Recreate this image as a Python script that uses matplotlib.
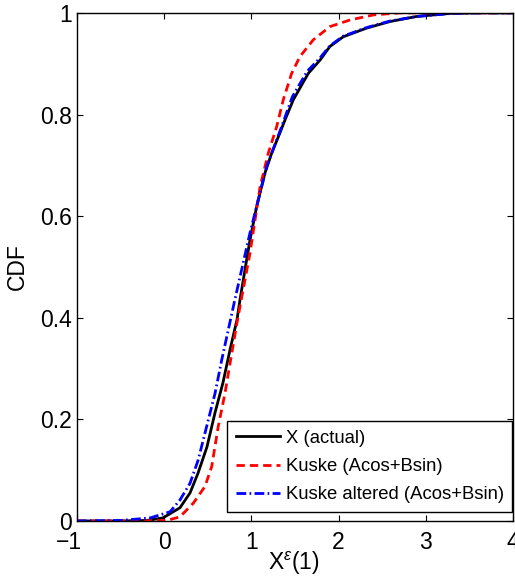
import matplotlib
matplotlib.use('Agg')
import matplotlib.pyplot as plt
from matplotlib.transforms import ScaledTranslation

plt.rcParams['font.family'] = ['Liberation Sans', 'DejaVu Sans']
plt.rcParams['mathtext.fontset'] = 'custom'
plt.rcParams['mathtext.rm'] = 'Liberation Sans'
plt.rcParams['mathtext.it'] = 'Liberation Sans:italic'

x_actual = [-1, -0.5, -0.2, -0.014, 0.181, 0.296, 0.388, 0.491, 0.583, 0.674, 0.755,
            0.835, 0.869, 0.907, 0.984, 1.061, 1.156, 1.233, 1.328, 1.385, 1.481,
            1.653, 1.787, 1.901, 2.054, 2.32, 2.59, 2.896, 3.28, 3.6, 4]
y_actual = [0, 0, 0.001, 0.006, 0.026, 0.055, 0.094, 0.146, 0.213, 0.272, 0.337,
            0.396, 0.435, 0.474, 0.553, 0.619, 0.685, 0.724, 0.764, 0.789, 0.829,
            0.881, 0.907, 0.934, 0.953, 0.970, 0.983, 0.993, 0.999, 1, 1]

x_kuske = [-1, -0.3, 0.03, 0.18, 0.334, 0.468, 0.545, 0.62, 0.697, 0.755, 0.84,
           0.984, 1.1, 1.194, 1.29, 1.366, 1.462, 1.557, 1.71, 1.901, 2.13, 2.4, 2.7, 4]
y_kuske = [0, 0, 0.001, 0.008, 0.035, 0.068, 0.107, 0.186, 0.251, 0.31, 0.395,
           0.527, 0.658, 0.724, 0.776, 0.829, 0.881, 0.914, 0.947, 0.973, 0.986, 0.996, 1.0, 1.0]

x_altered = [-1, -0.5, -0.16, 0.067, 0.18, 0.296, 0.39, 0.487, 0.583, 0.66, 0.735,
             0.81, 0.984, 1.175, 1.347, 1.47, 1.64, 1.78, 1.9, 2.05, 2.32, 2.59, 2.9, 3.3, 3.6, 4]
y_altered = [0, 0.001, 0.006, 0.018, 0.041, 0.074, 0.12, 0.186, 0.251, 0.317, 0.376,
             0.435, 0.567, 0.697, 0.776, 0.835, 0.885, 0.91, 0.935, 0.954, 0.971, 0.984, 0.993, 0.999, 1, 1]

xticks = [-1, 0, 1, 2, 3, 4]
xticklabels = ['\u22121', '0', '1', '2', '3', '4']
yticks = [0, 0.2, 0.4, 0.6, 0.8, 1]
yticklabels = ['0', '0.2', '0.4', '0.6', '0.8', '1']

fig = plt.figure(figsize=(5.15, 5.86), dpi=100)
ax = fig.add_axes([0.1495, 0.111, 0.8465, 0.867])

ax.plot(x_actual, y_actual, color='k', lw=2, label='X (actual)')
ax.plot(x_kuske, y_kuske, color=(1, 0, 0), lw=2, dashes=(3, 1.8), label='Kuske (Acos+Bsin)')
ax.plot(x_altered, y_altered, color=(0, 0, 1), lw=2, dashes=(3.5, 1.2, 0.6, 1.2),
        label='Kuske altered (Acos+Bsin)')

ax.set_xlim(-1, 4)
ax.set_ylim(0, 1)
ax.set_xticks(xticks)
ax.set_xticklabels(xticklabels)
ax.set_yticks(yticks)
ax.set_yticklabels(yticklabels)
ax.tick_params(direction='in', length=4, width=0.8, top=True, right=True,
               labelsize=16.5, colors='k')
ax.tick_params(axis='x', pad=7)
ax.tick_params(axis='y', pad=3.5)
for s in ax.spines.values():
    s.set_linewidth(1)

# matlab puts the "-1" a bit left of its tick
lab = ax.get_xticklabels()[0]
lab.set_transform(lab.get_transform() + ScaledTranslation(-0.08, 0, fig.dpi_scale_trans))

ax.set_xlabel('X$^{\\varepsilon}$(1)', fontsize=16.5, va='top')
ax.xaxis.set_label_coords(0.497, -0.056)
ax.set_ylabel('CDF', fontsize=16.5, va='center')
ax.yaxis.set_label_coords(-0.136, 0.5)

leg = ax.legend(loc='lower right', bbox_to_anchor=(0.998, 0.018), fontsize=13.3,
                frameon=True, fancybox=False, framealpha=1, edgecolor='k',
                handlelength=2.4, handletextpad=0.3, labelspacing=0.62,
                borderpad=0.45, borderaxespad=0)
leg.get_frame().set_linewidth(1)

fig.savefig('out.png', dpi=100)
